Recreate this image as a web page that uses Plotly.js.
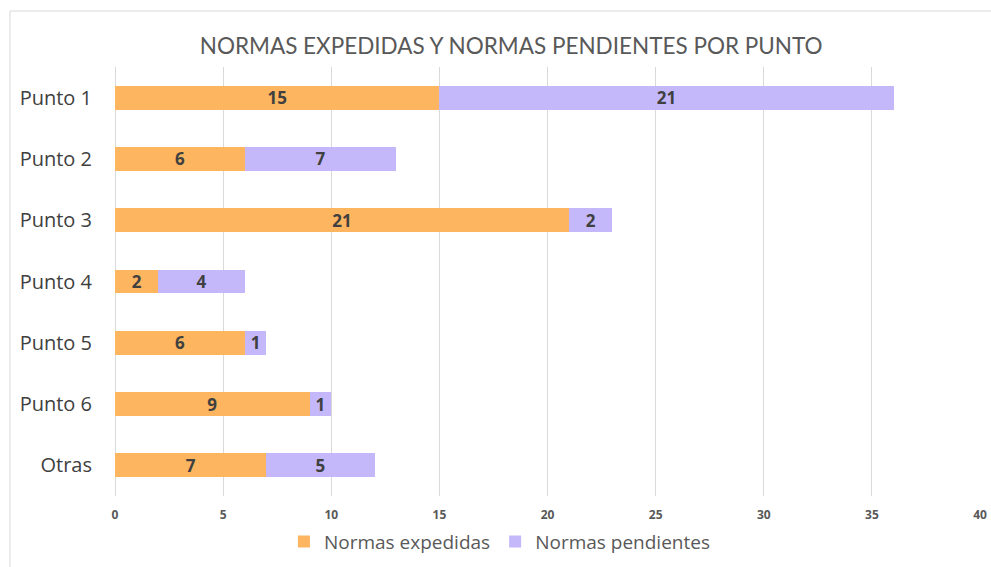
<!DOCTYPE html>
<html><head><meta charset="utf-8">
<script src="https://cdn.plot.ly/plotly-3.0.1.min.js"></script>
<style>html,body{margin:0;padding:0;background:#fff}#chart{width:991px;height:567px}</style>
</head><body><div id="chart"></div>
<script>
const categories = ["Punto 1","Punto 2","Punto 3","Punto 4","Punto 5","Punto 6","Otras"];
const expedidas = [15,6,21,2,6,9,7];
const pendientes = [21,7,2,4,1,1,5];
const seriesNames = ["Normas expedidas","Normas pendientes"];
const xTicks = [0,5,10,15,20,25,30,35,40];

const textFont = {family:"'Open Sans', sans-serif", size:17, color:"#404040", weight:700};
function trace(name, vals, color){
  return {type:"bar", orientation:"h", name:name, y:categories, x:vals,
    text:vals.map(String), textposition:"inside", insidetextanchor:"middle", textangle:0,
    constraintext:"none", cliponaxis:false,
    textfont:textFont, marker:{color:color, line:{width:0}}, hoverinfo:"x+y"};
}
const data = [trace(seriesNames[0], expedidas, "#FDB55F"), trace(seriesNames[1], pendientes, "#C4B8FB")];

const layout = {
  width:991, height:567, barmode:"stack", bargap:0.61,
  margin:{l:115, r:11, t:67, b:71},
  paper_bgcolor:"#fff", plot_bgcolor:"#fff",
  font:{family:"'Open Sans', sans-serif", color:"#404040"},
  title:{text:"NORMAS EXPEDIDAS Y NORMAS PENDIENTES POR PUNTO", x:0.458, xref:"paper", xanchor:"center",
    y:0.919, yref:"container", yanchor:"middle",
    font:{family:"Lato, sans-serif", size:22.5, color:"#595959"}},
  xaxis:{range:[0,40], tickvals:xTicks, ticktext:xTicks.map(String), showgrid:true, gridcolor:"#d9d9d9", gridwidth:1,
    zeroline:true, zerolinecolor:"#d9d9d9", zerolinewidth:1, showline:false, ticks:"",
    tickfont:{family:"'Liberation Sans Narrow', 'Open Sans', sans-serif", size:12, color:"#595959", weight:700}, ticklabelstandoff:10},
  yaxis:{autorange:"reversed", showgrid:false, zeroline:false, showline:false, ticks:"",
    tickfont:{family:"'Open Sans', sans-serif", size:20, color:"#404040"}, ticklabelstandoff:22},
  legend:{orientation:"h", x:0.445, xanchor:"center", xref:"paper", y:0.078, yref:"container", yanchor:"top",
    font:{family:"'Open Sans', sans-serif", size:19, color:"#595959"}, itemwidth:30, traceorder:"normal"},
  shapes:[{type:"rect", xref:"paper", yref:"paper", x0:-0.1214, x1:1.1, y0:-0.3, y1:1.1305,
    line:{color:"#d9d9d9", width:1}, fillcolor:"rgba(0,0,0,0)", layer:"below"}],
  showlegend:true
};
Plotly.newPlot("chart", data, layout, {displayModeBar:false, staticPlot:true});
</script></body></html>
